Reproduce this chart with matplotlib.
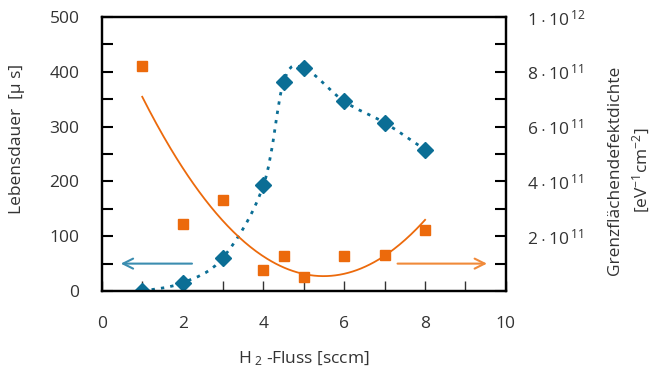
import numpy as np
import matplotlib
matplotlib.use('Agg')
import matplotlib.pyplot as plt
from matplotlib.path import Path
from matplotlib.patches import PathPatch
from matplotlib.ticker import MultipleLocator, FixedLocator, FixedFormatter

plt.rcParams['font.family'] = ['Open Sans', 'DejaVu Sans']
plt.rcParams['mathtext.fontset'] = 'custom'
plt.rcParams['mathtext.rm'] = 'Open Sans'
plt.rcParams['mathtext.it'] = 'Open Sans'

# H2 flow [sccm]
flow = [1, 2, 3, 4, 4.5, 5, 6, 7, 8]
# lifetime [us] (left axis)
lifetime = [0, 15, 61, 193, 382, 407, 346, 307, 258]
# interface defect density [eV^-1 cm^-2] (right axis)
dit = [8.22e11, 2.46e11, 3.32e11, 0.76e11, 1.29e11, 0.51e11, 1.27e11, 1.33e11, 2.24e11]

right_ticks = [2e11, 4e11, 6e11, 8e11, 1e12]
right_labels = [r'$2\cdot10^{\,11}$', r'$4\cdot10^{\,11}$', r'$6\cdot10^{\,11}$',
                r'$8\cdot10^{\,11}$', r'$1\cdot10^{\,12}$']

blue = '#0b6e95'
orange = '#ec6a0c'
txt = '#333333'

fig = plt.figure(figsize=(6.57, 3.71), dpi=100)
ax = fig.add_axes([0.155, 0.2156, 0.615, 0.7384])
ax2 = ax.twinx()

# smoothed line through the diamonds (Catmull-Rom bezier, like a spreadsheet "smooth line")
pts = np.column_stack([flow, lifetime]).astype(float)
verts = [pts[0]]
codes = [Path.MOVETO]
for i in range(len(pts) - 1):
    p0 = pts[i - 1] if i > 0 else pts[i]
    p1, p2 = pts[i], pts[i + 1]
    p3 = pts[i + 2] if i + 2 < len(pts) else pts[i + 1]
    verts += [p1 + (p2 - p0) / 6, p2 - (p3 - p1) / 6, p2]
    codes += [Path.CURVE4] * 3
ax.add_patch(PathPatch(Path(verts, codes), fill=False, edgecolor=blue, lw=2,
                       linestyle=(0, (1.2, 2.2)), zorder=2))
ax.plot(flow, lifetime, linestyle='none', marker='D', ms=8.5, color=blue, zorder=3)

# quadratic trend line for the defect density
coef = np.polyfit(flow, dit, 2)
xf = np.linspace(flow[0], flow[-1], 200)
ax2.plot(xf, np.polyval(coef, xf), color=orange, lw=1.3, zorder=2)
ax2.plot(flow, dit, linestyle='none', marker='s', ms=7.5, color=orange, zorder=3)

# arrows showing which axis belongs to which series
ax.annotate('', xy=(0.4, 50), xytext=(2.3, 50),
            arrowprops=dict(arrowstyle='->', color='#3b8db0', lw=1.5, mutation_scale=18))
ax.annotate('', xy=(9.6, 50), xytext=(7.25, 50),
            arrowprops=dict(arrowstyle='->', color='#f08a3a', lw=1.5, mutation_scale=18))

ax.set_xlim(0, 10)
ax.set_ylim(0, 500)
ax2.set_ylim(0, 1e12)

ax.xaxis.set_major_locator(MultipleLocator(2))
ax.xaxis.set_minor_locator(MultipleLocator(1))
ax.yaxis.set_major_locator(MultipleLocator(100))
ax.yaxis.set_minor_locator(MultipleLocator(50))
ax2.yaxis.set_major_locator(FixedLocator(right_ticks))
ax2.yaxis.set_major_formatter(FixedFormatter(right_labels))
ax2.yaxis.set_minor_locator(MultipleLocator(1e11))

ax.tick_params(axis='x', which='both', direction='in', length=7, width=1, color='#333333',
               labelsize=12.5, pad=18, labelcolor=txt)
ax.tick_params(axis='y', which='both', direction='in', length=8, width=1.5,
               labelsize=12.5, pad=16, labelcolor=txt)
ax2.tick_params(axis='y', which='both', direction='in', length=8, width=1.5,
                labelsize=12.5, pad=15, labelcolor=txt)

for a in (ax, ax2):
    for s in a.spines.values():
        s.set_linewidth(1.6)
        s.set_color('black')

ax.set_ylabel(r'Lebensdauer  [µ s]', fontsize=12.5, color=txt)
ax.yaxis.set_label_coords(-0.19, 0.555)
ax.set_xlabel(r'H$_{\;2}$ -Fluss [sccm]', fontsize=12.5, color=txt, labelpad=13)
ax2.set_ylabel('Grenzflächendefektdichte\n' + r'[eV$^{-1}$cm$^{-2}$]', fontsize=12.5,
               color=txt, linespacing=1.45)
ax2.yaxis.set_label_coords(1.25, 0.44)

fig.savefig('out.png', dpi=100)
